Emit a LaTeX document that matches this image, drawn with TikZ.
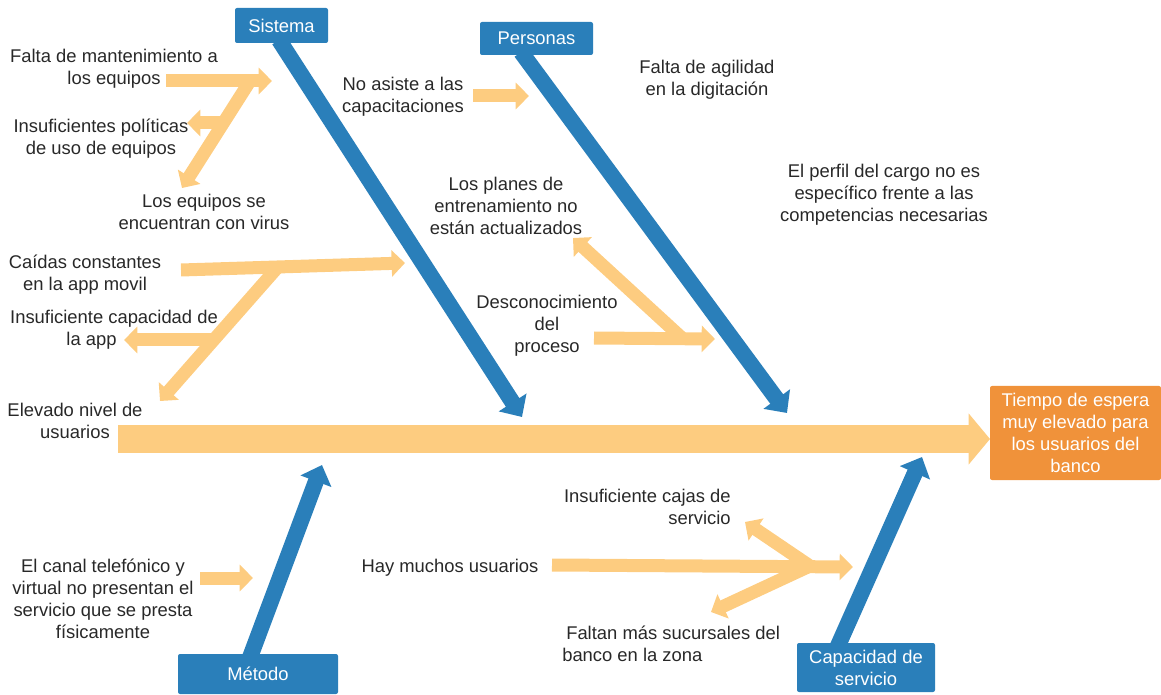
\documentclass[tikz,border=0pt]{standalone}
\usepackage{fontspec}
\setmainfont{Liberation Sans}
\usetikzlibrary{arrows.meta}
\definecolor{bblue}{RGB}{42,127,186}
\definecolor{byel}{RGB}{253,204,128}
\definecolor{borange}{RGB}{240,146,58}
\definecolor{tgray}{RGB}{40,40,40}
\begin{document}
\begin{tikzpicture}[x=0.75pt,y=-0.75pt,
  every node/.style={font=\fontsize{13.8}{16.5}\selectfont},
  lbl/.style={align=center, inner sep=0pt, text=tgray},
  catbox/.style={fill=bblue, text=white, rounded corners=1.5pt, align=center, inner sep=0pt},
  bone/.style={draw=bblue, line width=12pt, -{Triangle[width=24pt,length=13pt]}},
  subarr/.style={draw=byel, line width=9.75pt, -{Triangle[width=19.5pt,length=10pt]}},
  spine/.style={draw=byel, line width=21pt, -{Triangle[width=37.5pt,length=16pt]}}]
\useasboundingbox (0,0) rectangle (1161,695);

% coordinates
\coordinate (spL) at (118,439); \coordinate (spR) at (990,439);
\coordinate (sisA) at (279,40);  \coordinate (sisT) at (522,417);
\coordinate (perA) at (521,52);  \coordinate (perT) at (787,413);
\coordinate (metA) at (249,660); \coordinate (metT) at (322,465);
\coordinate (capA) at (837,648); \coordinate (capT) at (922,457);

\coordinate (a1s) at (166,81);  \coordinate (a1t) at (272,81);
\coordinate (a2s) at (250,81);  \coordinate (a2t) at (182,188);
\coordinate (a3s) at (224,123); \coordinate (a3t) at (187,123);
\coordinate (b1s) at (181,270); \coordinate (b1t) at (405,263);
\coordinate (b2s) at (277,268); \coordinate (b2t) at (160,401);
\coordinate (b3s) at (214,340); \coordinate (b3t) at (124,340);
\coordinate (c1s) at (473,96);  \coordinate (c1t) at (529,96);
\coordinate (c2s) at (594,338); \coordinate (c2t) at (715,339);
\coordinate (c3s) at (682,338); \coordinate (c3t) at (573,238);
\coordinate (d1s) at (552,565); \coordinate (d1t) at (853,567);
\coordinate (d2s) at (810,566); \coordinate (d2t) at (745,522);
\coordinate (d3s) at (810,566); \coordinate (d3t) at (711,612);
\coordinate (e1s) at (200,578); \coordinate (e1t) at (253,578);

% spine
\draw[spine] (spL) -- (spR);
% bones
\draw[bone] (sisA) -- (sisT);
\draw[bone] (perA) -- (perT);
\draw[bone] (metA) -- (metT);
\draw[bone] (capA) -- (capT);
% sub arrows
\draw[subarr] (a1s) -- (a1t);
\draw[subarr] (a2s) -- (a2t);
\draw[subarr] (a3s) -- (a3t);
\draw[subarr] (b1s) -- (b1t);
\draw[subarr] (b2s) -- (b2t);
\draw[subarr] (b3s) -- (b3t);
\draw[subarr] (c1s) -- (c1t);
\draw[subarr] (c2s) -- (c2t);
\draw[subarr] (c3s) -- (c3t);
\draw[subarr] (d1s) -- (d1t);
\draw[subarr] (d2s) -- (d2t);
\draw[subarr] (d3s) -- (d3t);
\draw[subarr] (e1s) -- (e1t);

% category boxes
\node[catbox, minimum width=69.75pt, minimum height=26.25pt] (sis) at (281.5,25.5) {Sistema};
\node[catbox, minimum width=84.75pt, minimum height=24.75pt] (per) at (536.5,38.5) {Personas};
\node[catbox, minimum width=120pt, minimum height=30pt] (met) at (258,674) {Método};
\node[catbox, minimum width=103.5pt, minimum height=36.75pt] (cap) at (866,667.5) {Capacidad de\\servicio};
\node[fill=borange, text=white, rounded corners=1.5pt, align=center, inner sep=0pt,
      minimum width=128.25pt, minimum height=70.5pt] (eff) at (1075.5,433)
      {Tiempo de espera\\muy elevado para\\los usuarios del\\banco};

% cause texts
\node[lbl] (t1) at (114,69) {Falta de mantenimiento a\\los equipos};
\node[lbl] (t2) at (101,139) {Insuficientes políticas\\de uso de equipos};
\node[lbl] (t3) at (204,212) {Los equipos se\\encuentran con virus};
\node[lbl] (t4) at (85,275) {Caídas constantes\\en la app movil};
\node[lbl] (t5) at (114,330) {Insuficiente capacidad de\\la app\hspace*{33.75pt}};
\node[lbl] (t6) at (75,421) {Elevado nivel de\\usuarios};
\node[lbl] (t7) at (403,97) {No asiste a las\\capacitaciones};
\node[lbl] (t8) at (707,80) {Falta de agilidad\\en la digitación};
\node[lbl] (t9) at (506,206) {Los planes de\\entrenamiento no\\están actualizados};
\node[lbl] (t10) at (547,326) {Desconocimiento\\del\\proceso};
\node[lbl] (t11) at (884,195) {El perfil del cargo no es\\específico frente a las\\competencias necesarias};
\node[lbl, align=right, anchor=east] (t12) at (731,507) {Insuficiente cajas de\\servicio};
\node[lbl] (t13) at (450,568) {Hay muchos usuarios};
\node[lbl, align=left, anchor=west] (t14) at (562,644) {\hspace*{3pt}Faltan más sucursales del\\banco en la zona};
\node[lbl] (t15) at (103,599) {El canal telefónico y\\virtual no presentan el\\servicio que se presta\\físicamente};
\end{tikzpicture}
\end{document}
